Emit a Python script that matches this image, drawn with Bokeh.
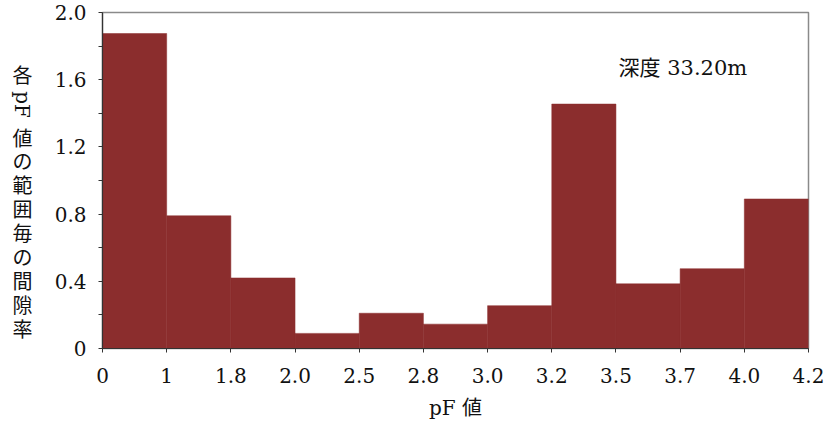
import math
from bokeh.plotting import figure
from bokeh.layouts import row
from bokeh.models import ColumnDataSource, Range1d, FixedTicker, Label
from bokeh.core.properties import value
from bokeh.embed import file_html
from bokeh.resources import INLINE

# ---- data ----
edges = ["0", "1", "1.8", "2.0", "2.5", "2.8", "3.0", "3.2", "3.5", "3.7", "4.0", "4.2"]
ratios = [1.875, 0.79, 0.42, 0.09, 0.21, 0.145, 0.255, 1.455, 0.385, 0.475, 0.89]
y_ticks = [0, 0.4, 0.8, 1.2, 1.6, 2.0]
y_tick_labels = ["0", "0.4", "0.8", "1.2", "1.6", "2.0"]
y_title = ["各", "pF", "値", "の", "範", "囲", "毎", "の", "間", "隙", "率"]
x_title = "pF 値"
note = "深度 33.20m"

FONT = "DejaVu Serif, Noto Sans CJK JP"
BAR = "#8b2d2d"
TXT = "#111111"
W, H = 830, 426
LEFT_W = 50
TOP, BOTTOM = 12, 348   # frame top / bottom in page pixels

# ---- left strip with the vertical y-axis title ----
ys = [75]
for i in range(1, len(y_title)):
    step = 29 if i == 1 else (34 if i == 2 else 23.9)
    ys.append(ys[-1] + step)
angles = [-math.pi / 2 if ch.isascii() else 0 for ch in y_title]
tsrc = ColumnDataSource(dict(x=[22] * len(y_title), y=ys, text=y_title, angle=angles))

lf = figure(width=LEFT_W, height=H, output_backend="svg", toolbar_location=None,
            x_range=Range1d(0, LEFT_W), y_range=Range1d(BOTTOM, TOP),
            x_axis_type=None, y_axis_type=None,
            min_border_left=0, min_border_right=0, min_border_top=TOP,
            min_border_bottom=H - BOTTOM)
lf.outline_line_color = None
lf.xgrid.visible = False
lf.ygrid.visible = False
lf.text(x="x", y="y", text="text", angle="angle", source=tsrc,
        text_font=value(FONT), text_font_size="20px", text_color=TXT,
        text_align="center", text_baseline="middle")

# ---- main chart ----
n = len(ratios)
src = ColumnDataSource(dict(
    left=list(range(n)),
    right=[i + 1 for i in range(n)],
    bottom=[0] * n,
    top=ratios,
))

p = figure(width=W - LEFT_W, height=H, output_backend="svg", toolbar_location=None,
           x_range=Range1d(0, n), y_range=Range1d(y_ticks[0], y_ticks[-1]),
           min_border_left=102 - LEFT_W, min_border_right=22, min_border_top=TOP,
           min_border_bottom=H - BOTTOM)
p.background_fill_color = "white"
p.border_fill_color = "white"
p.xgrid.visible = False
p.ygrid.visible = False
p.outline_line_color = "#8a8a8a"
p.outline_line_width = 1.5

p.quad(left="left", right="right", bottom="bottom", top="top", source=src,
       fill_color=BAR, line_color=BAR, line_width=0.5)

# x axis
xa = p.xaxis[0]
xa.ticker = FixedTicker(ticks=list(range(len(edges))))
xa.major_label_overrides = {i: e for i, e in enumerate(edges)}
xa.axis_label = x_title
xa.axis_label_text_font = FONT
xa.axis_label_text_font_size = "20px"
xa.axis_label_text_font_style = "normal"
xa.axis_label_text_color = TXT
xa.axis_label_standoff = 10
xa.major_label_standoff = 15

# y axis
ya = p.yaxis[0]
minor = [(a + b) / 2 for a, b in zip(y_ticks[:-1], y_ticks[1:])]
ya.ticker = FixedTicker(ticks=y_ticks, minor_ticks=minor)
ya.major_label_overrides = {t: s for t, s in zip(y_ticks, y_tick_labels)}
ya.major_label_standoff = 12

for ax in (xa, ya):
    ax.major_label_text_font = FONT
    ax.major_label_text_font_size = "20px"
    ax.major_label_text_color = TXT
    ax.axis_line_color = "#333333"
    ax.axis_line_width = 1.2
    ax.major_tick_line_color = "#333333"
    ax.minor_tick_line_color = "#333333" if ax is ya else None
    ax.major_tick_in = 0
    ax.major_tick_out = 4
    ax.minor_tick_in = 0
    ax.minor_tick_out = 4

# depth note (screen units from the frame's bottom-left corner)
p.add_layout(Label(x=618 - 102, y=BOTTOM - 67, x_units="screen", y_units="screen",
                   text=note, text_font=FONT, text_font_size="21px",
                   text_color=TXT, text_align="left", text_baseline="middle"))

layout = row(lf, p, spacing=0)
open("out.html", "w").write(file_html(layout, INLINE))
